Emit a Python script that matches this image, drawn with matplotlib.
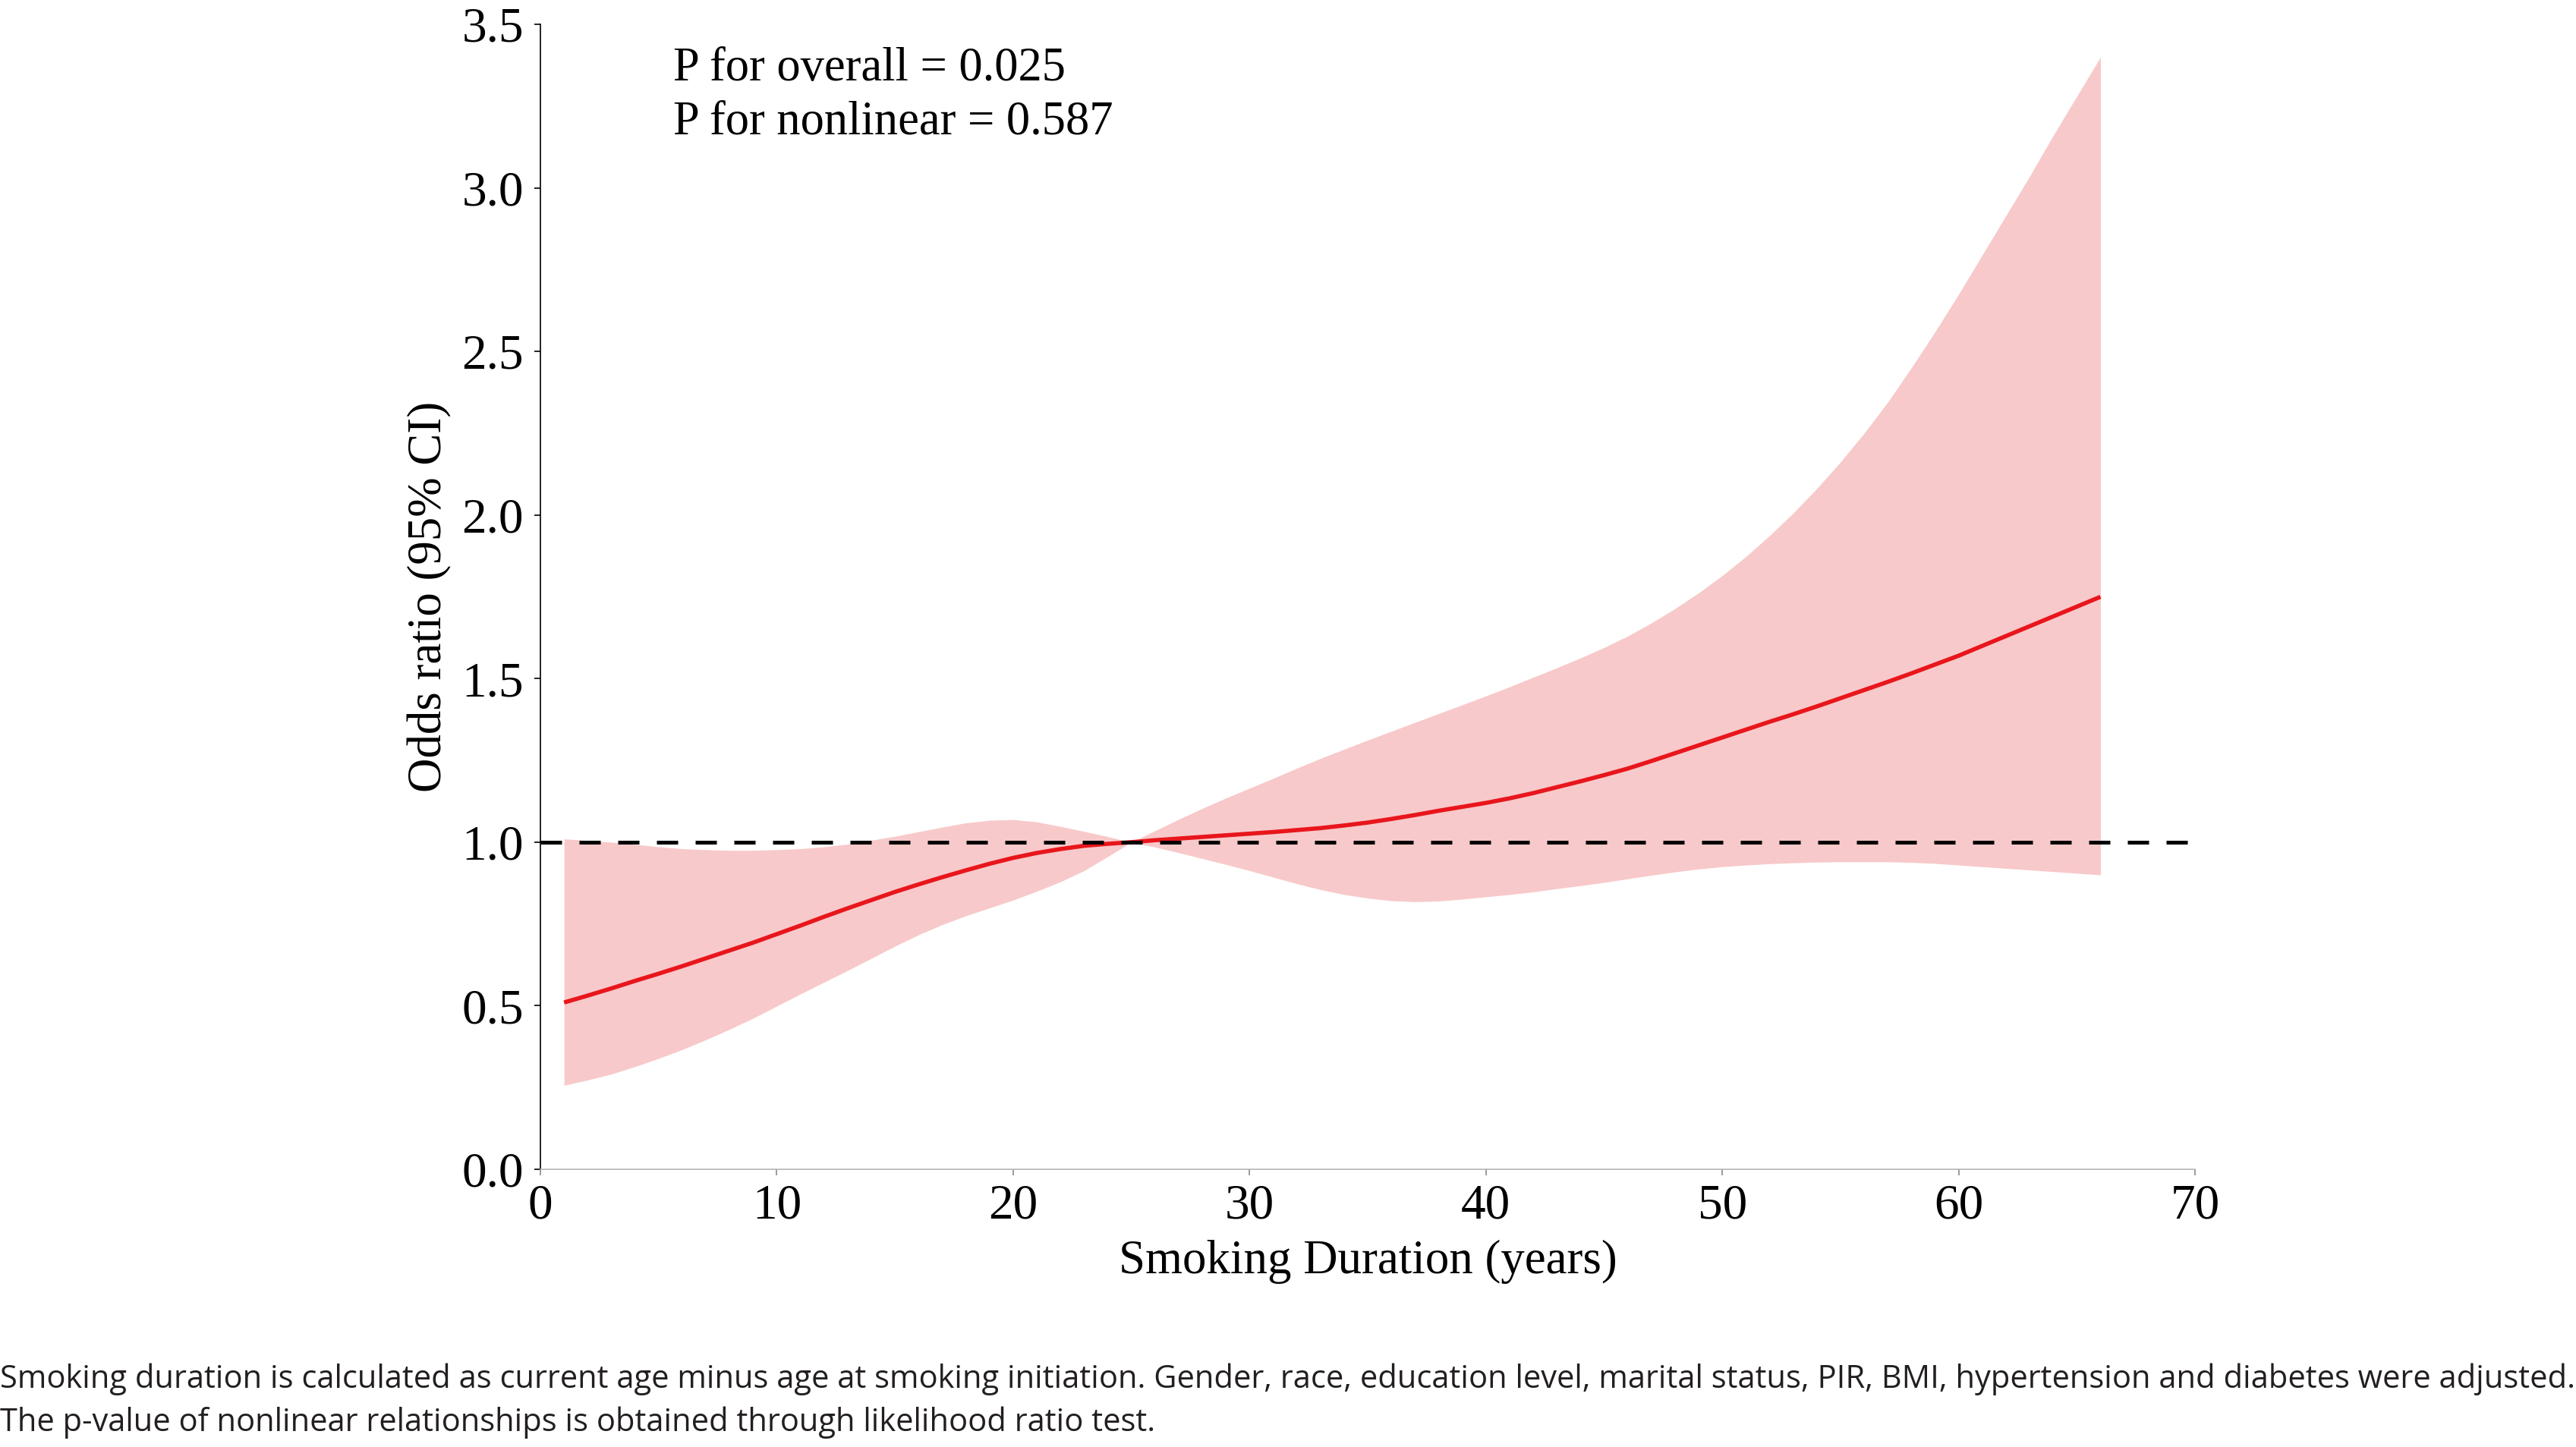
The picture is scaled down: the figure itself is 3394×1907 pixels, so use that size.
import matplotlib.pyplot as plt

# === DATA ===
duration = list(range(1, 67))
odds = [0.510, 0.531, 0.553, 0.576, 0.598, 0.621, 0.645, 0.669, 0.693, 0.719,
        0.745, 0.772, 0.798, 0.823, 0.848, 0.871, 0.893, 0.914, 0.934, 0.952,
        0.967, 0.979, 0.989, 0.995, 1.000, 1.006, 1.011, 1.016, 1.021, 1.026,
        1.031, 1.037, 1.043, 1.051, 1.060, 1.071, 1.083, 1.096, 1.108, 1.120,
        1.134, 1.150, 1.168, 1.186, 1.205, 1.225, 1.248, 1.272, 1.296, 1.320,
        1.344, 1.368, 1.391, 1.415, 1.440, 1.465, 1.490, 1.516, 1.543, 1.570,
        1.600, 1.630, 1.660, 1.690, 1.720, 1.750]
ci_upper = [1.010, 1.005, 1.000, 0.993, 0.986, 0.980, 0.977, 0.975, 0.975, 0.977,
            0.980, 0.986, 0.994, 1.006, 1.018, 1.032, 1.046, 1.059, 1.067, 1.069,
            1.062, 1.048, 1.033, 1.017, 1.000, 1.035, 1.070, 1.103, 1.135, 1.165,
            1.195, 1.226, 1.256, 1.284, 1.312, 1.339, 1.366, 1.393, 1.420, 1.447,
            1.475, 1.504, 1.533, 1.563, 1.595, 1.630, 1.670, 1.714, 1.762, 1.815,
            1.873, 1.937, 2.006, 2.081, 2.162, 2.250, 2.345, 2.450, 2.560, 2.675,
            2.795, 2.915, 3.035, 3.160, 3.280, 3.400]
ci_lower = [0.257, 0.273, 0.291, 0.314, 0.339, 0.366, 0.396, 0.428, 0.462, 0.499,
            0.536, 0.572, 0.608, 0.645, 0.682, 0.717, 0.748, 0.775, 0.799, 0.823,
            0.850, 0.879, 0.913, 0.956, 1.000, 0.985, 0.968, 0.950, 0.932, 0.913,
            0.893, 0.873, 0.855, 0.840, 0.829, 0.821, 0.818, 0.820, 0.826, 0.833,
            0.840, 0.848, 0.858, 0.867, 0.877, 0.888, 0.899, 0.909, 0.918, 0.925,
            0.930, 0.934, 0.937, 0.939, 0.940, 0.940, 0.940, 0.938, 0.935, 0.930,
            0.925, 0.920, 0.915, 0.910, 0.905, 0.900]

x_ticks = [0, 10, 20, 30, 40, 50, 60, 70]
y_ticks = [0.0, 0.5, 1.0, 1.5, 2.0, 2.5, 3.0, 3.5]
p_text = ["P for overall = 0.025", "P for nonlinear = 0.587"]
caption = ["Smoking duration is calculated as current age minus age at smoking initiation. "
           "Gender, race, education level, marital status, PIR, BMI, hypertension and diabetes were adjusted.",
           "The p-value of nonlinear relationships is obtained through likelihood ratio test."]

# === STYLE ===
SERIF = "Liberation Serif"
SANS = "Open Sans"
BAND = "#f8c9ca"
LINE = "#e8161c"
W, H = 3394, 1907

fig = plt.figure(figsize=(W / 100, H / 100), dpi=100)
ax = fig.add_axes([0.2098, 0.1919, 0.6423, 0.7913])

ax.fill_between(duration, ci_lower, ci_upper, color=BAND, linewidth=0)
ax.plot(duration, odds, color=LINE, linewidth=4.0, solid_capstyle="butt")
ax.plot([0, 70], [1, 1], color="black", linewidth=3.6, linestyle=(0, (5.6, 4.6)))

ax.set_xlim(0, 70)
ax.set_ylim(0, 3.5)
ax.set_xticks(x_ticks)
ax.set_yticks(y_ticks)
ax.set_yticklabels([f"{v:.1f}" for v in y_ticks])

for s in ["top", "right"]:
    ax.spines[s].set_visible(False)
ax.spines["left"].set_color("black")
ax.spines["left"].set_linewidth(1.2)
ax.spines["bottom"].set_color("#b5b5b5")
ax.spines["bottom"].set_linewidth(1.2)

ax.tick_params(axis="y", length=6, width=1.2, color="black", pad=10,
               labelsize=47, labelfontfamily=SERIF)
ax.tick_params(axis="x", length=6, width=1.2, color="#8a8a8a", pad=8,
               labelsize=47, labelfontfamily=SERIF)

ax.set_xlabel("Smoking Duration (years)", fontsize=45.3, family=SERIF, labelpad=10)
ax.set_ylabel("Odds ratio (95% CI)", fontsize=45.3, family=SERIF, labelpad=9)

ax.text(0.0802, 0.961, p_text[0], transform=ax.transAxes, fontsize=45,
        family=SERIF, va="center", ha="left")
ax.text(0.0802, 0.914, p_text[1], transform=ax.transAxes, fontsize=45,
        family=SERIF, va="center", ha="left")

# caption: shrink the first line so it spans the figure width like the original
cap1 = fig.text(0.0, 1 - 1818 / H, caption[0], fontsize=31, family=SANS,
                va="center", ha="left", color="#231f20")
fig.canvas.draw()
w1 = cap1.get_window_extent().width
cap_size = 31 * 3388 / w1
cap1.set_fontsize(cap_size)
fig.text(0.0, 1 - 1875 / H, caption[1], fontsize=cap_size, family=SANS,
         va="center", ha="left", color="#231f20")

fig.savefig("out.png", dpi=100, facecolor="white")
